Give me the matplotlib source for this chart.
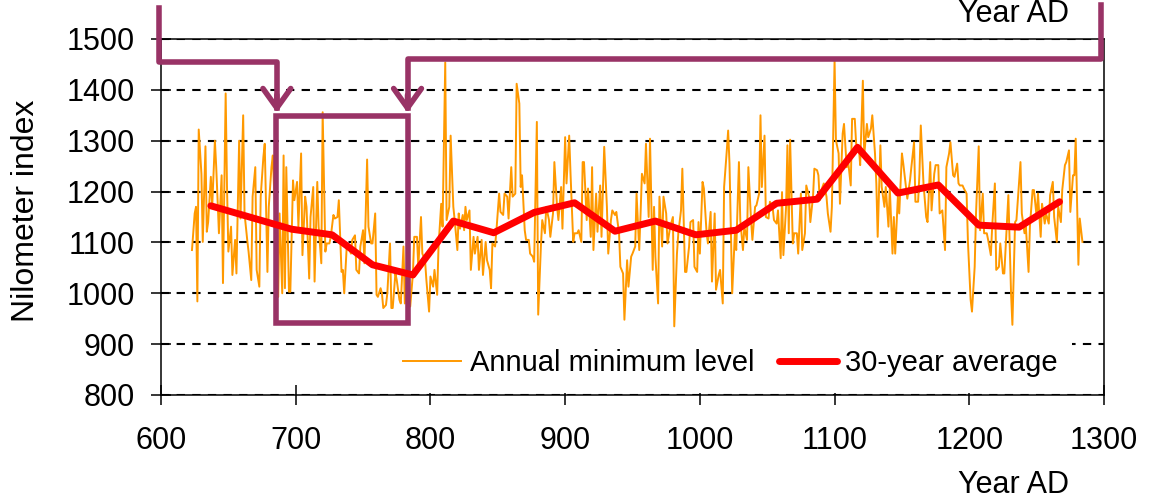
import matplotlib
matplotlib.use("Agg")
import matplotlib.pyplot as plt
from matplotlib.patches import Rectangle

plt.rcParams['font.family'] = ['Liberation Sans', 'DejaVu Sans']

# annual minimum level (~every 1.5 years)
years_a = [623, 625, 626, 627, 628, 630, 631, 633, 634, 635, 637, 638, 640, 641, 643, 645, 646, 648, 649, 650,
           652, 653, 655, 656, 658, 659, 661, 662, 664, 665, 667, 668, 670, 671, 673, 674, 676, 677, 679, 680,
           682, 683, 685, 687, 688, 690, 691, 692, 693, 695, 696, 698, 699, 701, 702, 704, 705, 707, 708, 710,
           711, 713, 714, 716, 717, 719, 720, 722, 723, 725, 726, 728, 729, 731, 732, 734, 735, 736, 738, 739]
level_a = [1085, 1157, 1170, 984, 1322, 1235, 1101, 1289, 1121, 1140, 1229, 1170, 1300, 1248, 1118, 1232, 1020, 1393, 1209, 1082,
           1131, 1036, 1105, 1039, 1300, 1147, 1350, 1157, 1105, 1082, 1026, 1190, 1248, 1046, 1013, 1190, 1268, 1294, 1042, 1170,
           1248, 1271, 1131, 993, 1157, 1000, 1271, 1010, 1248, 1003, 1003, 1222, 1183, 1219, 1131, 1275, 1075, 1190, 1170, 1029,
           1150, 1209, 1023, 1219, 1131, 1059, 1356, 1082, 1098, 1098, 1111, 1154, 1147, 1150, 1183, 1042, 1046, 1000, 1098, 1092]

years_b = [741, 742, 744, 745, 747, 748, 750, 751, 753, 754, 756, 757, 759, 760, 761, 763, 764, 765, 767, 768,
           770, 771, 772, 774, 775, 777, 778, 780, 781, 782, 785, 787, 788, 790, 791, 793, 794, 796, 797, 799,
           800, 802, 803, 805, 806, 808, 809, 811, 812, 814, 815, 817, 818, 820, 821, 822, 824, 825, 826, 827,
           829, 830, 832, 833, 835, 836, 838, 839, 841, 842, 844, 845, 846, 848, 849, 851, 852, 854, 855, 857,
           858, 860, 861, 863, 864, 866, 867, 868, 870, 871, 873, 874, 876, 877, 879, 880, 882, 883]
level_b = [1078, 1105, 1114, 1046, 1039, 1092, 1124, 1059, 1263, 1131, 1098, 1098, 1157, 997, 993, 1010, 1000, 971, 977, 1000,
           1098, 971, 971, 1039, 1026, 987, 980, 1092, 980, 1039, 974, 1039, 1111, 1111, 1052, 1150, 1078, 1065, 1026, 964,
           1033, 1013, 1046, 997, 1092, 1176, 1131, 1454, 1144, 1170, 1310, 1170, 1144, 1085, 1157, 1127, 1154, 1124, 1170, 1144,
           1163, 1046, 1111, 1078, 1111, 1046, 1105, 1036, 1101, 1065, 1046, 1010, 1098, 1092, 1124, 1196, 1160, 1154, 1196, 1190,
           1147, 1248, 1190, 1196, 1412, 1373, 1209, 1232, 1124, 1105, 1105, 1078, 1072, 1062, 1337, 958, 1092, 1144]

years_c = [885, 886, 888, 889, 891, 892, 894, 895, 897, 898, 900, 901, 903, 904, 906, 907, 909, 910, 912, 913,
           914, 916, 917, 919, 920, 921, 923, 924, 926, 927, 929, 931, 932, 934, 935, 937, 938, 940, 941, 943,
           944, 946, 947, 949, 950, 952, 953, 955, 956, 957, 959, 960, 962, 963, 965, 966, 967, 969, 970, 972,
           973, 975, 976, 978, 980, 981, 983, 984, 986, 987, 989, 990, 992, 993, 995, 996, 998, 999, 1000, 1002,
           1003, 1005, 1006, 1008, 1009, 1011, 1012, 1014, 1015, 1017, 1018, 1020, 1021, 1022]
level_c = [1118, 1170, 1144, 1111, 1157, 1258, 1170, 1144, 1209, 1127, 1307, 1216, 1310, 1235, 1101, 1118, 1118, 1124, 1101, 1258,
           1258, 1144, 1206, 1111, 1248, 1085, 1196, 1121, 1212, 1111, 1288, 1170, 1078, 1144, 1163, 1154, 1160, 1118, 1052, 1039,
           948, 1065, 1013, 1072, 1078, 1092, 1196, 1085, 1157, 1235, 1216, 1294, 1150, 1304, 1046, 1170, 1072, 980, 1190, 1092,
           1190, 1157, 1098, 1131, 1150, 935, 1078, 1118, 1163, 1245, 1042, 1042, 1092, 1140, 1144, 1052, 1042, 1140, 1078, 1219,
           1206, 1118, 1098, 1160, 1023, 1157, 1007, 1036, 1046, 980, 1209, 1281, 1320, 1255]

years_d = [1024, 1026, 1027, 1029, 1030, 1032, 1033, 1035, 1036, 1038, 1039, 1041, 1042, 1044, 1045, 1046, 1048, 1049, 1051, 1052,
           1054, 1055, 1057, 1058, 1060, 1061, 1062, 1064, 1065, 1066, 1067, 1069, 1070, 1072, 1073, 1075, 1076, 1078, 1079, 1081,
           1082, 1084, 1085, 1087, 1088, 1089, 1091, 1092, 1094, 1095, 1097, 1098, 1100, 1101, 1103, 1104, 1106, 1107, 1109, 1110,
           1112, 1113, 1115, 1116, 1118, 1119, 1121, 1122, 1124, 1125, 1127, 1128, 1130, 1131, 1132, 1134, 1135, 1137, 1138, 1140,
           1141, 1143, 1144, 1145, 1147, 1148, 1150, 1151, 1153, 1154, 1156, 1157, 1159, 1160, 1162, 1163, 1164, 1166]
level_d = [1000, 1118, 1085, 1258, 1144, 1085, 1131, 1105, 1248, 1144, 1105, 1170, 1173, 1196, 1350, 1209, 1310, 1150, 1147, 1180,
           1170, 1144, 1137, 1163, 1069, 1199, 1075, 1170, 1291, 1118, 1302, 1098, 1118, 1118, 1078, 1196, 1085, 1118, 1212, 1190,
           1140, 1190, 1245, 1242, 1232, 1183, 1209, 1216, 1190, 1157, 1121, 1170, 1458, 1301, 1275, 1176, 1314, 1333, 1248, 1261,
           1212, 1343, 1343, 1294, 1288, 1252, 1418, 1271, 1333, 1307, 1324, 1350, 1275, 1216, 1111, 1291, 1209, 1170, 1209, 1131,
           1206, 1078, 1150, 1078, 1190, 1157, 1275, 1255, 1209, 1186, 1222, 1248, 1297, 1180, 1180, 1235, 1330, 1216]

years_e = [1168, 1169, 1171, 1172, 1174, 1175, 1177, 1178, 1180, 1182, 1183, 1185, 1186, 1188, 1189, 1191, 1192, 1193, 1195, 1196,
           1198, 1199, 1201, 1202, 1204, 1205, 1207, 1208, 1210, 1211, 1213, 1214, 1216, 1217, 1219, 1220, 1222, 1223, 1225, 1226,
           1228, 1229, 1231, 1232, 1234, 1235, 1236, 1238, 1239, 1241, 1242, 1244, 1245, 1247, 1248, 1250, 1251, 1253, 1254, 1256,
           1257, 1259, 1260, 1262, 1263, 1265, 1266, 1268, 1269, 1271, 1272, 1274, 1275, 1277, 1278, 1279, 1281, 1282, 1284]
level_e = [1150, 1140, 1258, 1163, 1235, 1252, 1252, 1157, 1163, 1085, 1248, 1275, 1297, 1232, 1229, 1255, 1216, 1212, 1212, 1206,
           1196, 1101, 987, 964, 1052, 1157, 1289, 1124, 1196, 1118, 1118, 1105, 1075, 1131, 1216, 1046, 1052, 1098, 1039, 1039,
           1140, 1193, 1000, 938, 1140, 1144, 1183, 1258, 1157, 1118, 1131, 1042, 1131, 1203, 1203, 1150, 1196, 1111, 1176, 1137,
           1157, 1137, 1193, 1219, 1150, 1101, 1170, 1140, 1203, 1252, 1258, 1281, 1160, 1232, 1232, 1304, 1056, 1147, 1101]

# 30-year average
years_avg = [637, 667, 697, 727, 757, 787, 817, 847, 877, 907, 937, 967, 997, 1027, 1057, 1087, 1117, 1147, 1177, 1207, 1237, 1267]
level_avg = [1172, 1149, 1126, 1115, 1056, 1036, 1142, 1119, 1159, 1178, 1122, 1142, 1115, 1124, 1177, 1185, 1287, 1197, 1213, 1134, 1130, 1180]

years = years_a + years_b + years_c + years_d + years_e
level = level_a + level_b + level_c + level_d + level_e

orange = '#FF9900'
purple = '#993366'

fig = plt.figure(figsize=(11.55, 4.98), dpi=100)
ax = fig.add_axes([161 / 1155, 103 / 498, 943 / 1155, 356 / 498])

ax.plot(years, level, color=orange, lw=1.4, zorder=3, label='Annual minimum level')
ax.plot(years_avg, level_avg, color='#FF0000', lw=5, zorder=5, solid_capstyle='round',
        solid_joinstyle='round', label='30-year average')

ax.set_xlim(600, 1300)
ax.set_ylim(800, 1500)
ax.set_xticks(range(600, 1301, 100))
ax.set_yticks(range(800, 1501, 100))
ax.yaxis.grid(True, color='black', linestyle=(0, (4, 3.5)), lw=1.5)
ax.set_axisbelow(True)
ax.tick_params(direction='inout', length=14, width=1.1, labelsize=22, pad=12)
ax.tick_params(axis='x', pad=15)
for s in ax.spines.values():
    s.set_linewidth(1.1)

# white legend box
ax.add_patch(Rectangle((0.226, 0.006), 0.74, 0.16, transform=ax.transAxes,
                       facecolor='white', edgecolor='none', zorder=2))
leg = ax.legend(loc='center', bbox_to_anchor=(0.604, 0.09), ncol=2, frameon=False, fontsize=21,
                handlelength=2.0, handletextpad=0.28, columnspacing=0.85, borderpad=0.1)
leg.set_zorder(6)

# purple brackets and box
ax.plot([598.5, 598.5, 686, 686], [1561, 1455, 1455, 1365], color=purple, lw=4,
        clip_on=False, zorder=4, solid_joinstyle='round')
ax.plot([1297.8, 1297.8, 783, 783], [1567, 1461, 1461, 1365], color=purple, lw=4,
        clip_on=False, zorder=4, solid_joinstyle='round')
for x in (686, 783):
    ax.annotate('', xy=(x, 1355), xytext=(x, 1390),
                arrowprops=dict(arrowstyle='->,head_length=0.7,head_width=0.5', color=purple,
                                lw=4, shrinkA=0, shrinkB=0, mutation_scale=20), zorder=4)
ax.add_patch(Rectangle((685.3, 941.6), 97.9, 407, facecolor='none', edgecolor=purple,
                       lw=4, zorder=4))

fig.text(26 / 1155, 1 - 211 / 498, 'Nilometer index', rotation=90, fontsize=23,
         ha='center', va='center')
fig.text(1014 / 1155, 5 / 498, 'Year AD', fontsize=22, ha='center', va='baseline')
fig.text(1014 / 1155, 1 - 22 / 498, 'Year AD', fontsize=22, ha='center', va='baseline')

fig.savefig('out.png', dpi=100)
